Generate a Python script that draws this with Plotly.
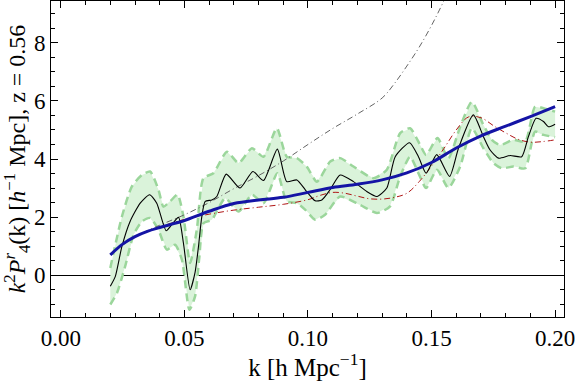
import plotly.graph_objects as go

# measured P4 (black)
k_obs = [0.0200, 0.0220, 0.0247, 0.0280, 0.0321, 0.0359, 0.0388, 0.0426, 0.0449, 0.0476,
         0.0496, 0.0523, 0.0543, 0.0557, 0.0570, 0.0584, 0.0611, 0.0631, 0.0669, 0.0725,
         0.0777, 0.0820, 0.0876, 0.0914, 0.0955, 0.0989, 0.1029, 0.1056, 0.1090, 0.1130,
         0.1184, 0.1238, 0.1279, 0.1319, 0.1353, 0.1411, 0.1447, 0.1478, 0.1521, 0.1573,
         0.1609, 0.1669, 0.1710, 0.1737, 0.1771, 0.1818, 0.1865, 0.1892, 0.1923, 0.1953,
         0.1973, 0.2000]
p_obs = [-0.38, -0.05, 0.99, 1.85, 2.48, 2.77, 2.48, 1.53, 1.74, 1.99,
         1.10, -0.50, 0.10, 1.00, 2.00, 2.54, 2.59, 2.71, 3.48, 3.00,
         3.57, 3.26, 4.34, 3.22, 3.28, 2.94, 2.56, 2.59, 2.95, 3.45,
         3.22, 2.88, 2.71, 3.00, 4.08, 4.56, 4.08, 3.51, 4.15, 3.40,
         4.37, 5.52, 4.77, 4.31, 4.03, 4.12, 4.08, 4.77, 5.40, 5.29,
         5.11, 5.20]

# error band (green)
k_up = [0.0200, 0.0247, 0.0287, 0.0328, 0.0361, 0.0395, 0.0415, 0.0442, 0.0472, 0.0496,
        0.0523, 0.0550, 0.0577, 0.0617, 0.0672, 0.0719, 0.0773, 0.0820, 0.0874, 0.0914,
        0.0955, 0.0995, 0.1036, 0.1090, 0.1130, 0.1184, 0.1265, 0.1319, 0.1373, 0.1413,
        0.1454, 0.1478, 0.1524, 0.1568, 0.1616, 0.1663, 0.1710, 0.1744, 0.1777, 0.1831,
        0.1879, 0.1919, 0.1953, 0.2000]
p_up = [0.25, 2.02, 3.05, 3.45, 3.57, 2.94, 2.36, 2.54, 2.77, 2.02,
        0.42, 1.56, 3.34, 3.51, 4.25, 3.86, 4.37, 4.08, 5.06, 4.08,
        4.03, 3.74, 3.22, 3.91, 4.03, 3.74, 3.34, 3.63, 4.89, 5.06,
        4.48, 4.14, 4.72, 4.03, 5.11, 5.97, 5.17, 4.66, 4.48, 4.66,
        4.60, 5.80, 5.75, 5.63]
k_lo = [0.0200, 0.0227, 0.0260, 0.0294, 0.0328, 0.0361, 0.0395, 0.0429, 0.0462, 0.0490,
        0.0520, 0.0543, 0.0560, 0.0577, 0.0611, 0.0665, 0.0719, 0.0773, 0.0820, 0.0876,
        0.0914, 0.0955, 0.0989, 0.1029, 0.1069, 0.1130, 0.1211, 0.1279, 0.1332, 0.1373,
        0.1413, 0.1447, 0.1478, 0.1522, 0.1568, 0.1616, 0.1663, 0.1710, 0.1750, 0.1784,
        0.1831, 0.1879, 0.1919, 0.1953, 0.2000]
p_lo = [-1.01, -0.61, 0.30, 1.39, 1.85, 1.97, 1.56, 0.88, 1.05, 0.53,
        -1.19, -0.73, 0.60, 1.79, 1.91, 2.65, 2.19, 2.77, 2.48, 3.51,
        2.54, 2.48, 2.25, 1.91, 2.08, 2.71, 2.42, 2.14, 2.37, 3.40,
        4.08, 3.51, 3.00, 3.63, 3.00, 3.74, 5.06, 4.37, 3.86, 3.68,
        3.74, 3.68, 4.94, 4.83, 4.75]

# model (blue)
k_model = [0.020, 0.025, 0.030, 0.035, 0.040, 0.045, 0.050, 0.060, 0.070, 0.080, 0.090,
           0.100, 0.110, 0.120, 0.130, 0.140, 0.150, 0.160, 0.170, 0.180, 0.190, 0.200]
p_model = [0.70, 1.07, 1.33, 1.51, 1.64, 1.76, 1.88, 2.20, 2.47, 2.59, 2.68,
           2.85, 3.02, 3.13, 3.28, 3.52, 3.88, 4.38, 4.80, 5.13, 5.46, 5.80]

# red dot-dashed
k_red = [0.020, 0.030, 0.040, 0.050, 0.060, 0.070, 0.080, 0.090, 0.100, 0.105, 0.110, 0.115,
         0.120, 0.125, 0.130, 0.135, 0.140, 0.145, 0.150, 0.155, 0.160, 0.165, 0.170, 0.175,
         0.180, 0.185, 0.190, 0.195, 0.200]
p_red = [0.72, 1.33, 1.66, 1.92, 2.10, 2.24, 2.34, 2.44, 2.60, 2.75, 2.85, 2.82,
         2.72, 2.63, 2.62, 2.68, 2.82, 3.22, 3.76, 4.36, 5.00, 5.45, 5.42, 5.15,
         4.90, 4.68, 4.58, 4.60, 4.66]

# gray dot-dashed
k_gray = [0.020, 0.030, 0.040, 0.050, 0.060, 0.070, 0.080, 0.090, 0.100, 0.110, 0.120,
          0.130, 0.135, 0.140, 0.145, 0.150, 0.155, 0.160]
p_gray = [0.72, 1.32, 1.72, 2.08, 2.50, 2.98, 3.43, 3.93, 4.50, 5.05, 5.55,
          6.10, 6.60, 7.20, 7.85, 8.60, 9.45, 10.40]

x_ticks = [0.00, 0.05, 0.10, 0.15, 0.20]
y_ticks = [0, 2, 4, 6, 8]

FONT = "Liberation Serif"
band_green = "rgb(155,214,155)"

fig = go.Figure()
fig.add_trace(go.Scatter(x=k_up + k_lo[::-1], y=p_up + p_lo[::-1], fill="toself",
                         fillcolor="rgb(218,243,218)", line=dict(width=0),
                         mode="lines", hoverinfo="skip", showlegend=False))
fig.add_trace(go.Scatter(x=k_up, y=p_up, mode="lines",
                         line=dict(color=band_green, width=2.5, dash="8px,5px", shape="spline", smoothing=0.6),
                         showlegend=False))
fig.add_trace(go.Scatter(x=k_lo, y=p_lo, mode="lines",
                         line=dict(color=band_green, width=2.5, dash="8px,5px", shape="spline", smoothing=0.6),
                         showlegend=False))
fig.add_trace(go.Scatter(x=k_gray, y=p_gray, mode="lines",
                         line=dict(color="rgb(100,100,100)", width=1, dash="6px,3px,1px,3px", shape="spline"),
                         showlegend=False))
fig.add_trace(go.Scatter(x=k_red, y=p_red, mode="lines",
                         line=dict(color="rgb(175,20,20)", width=1, dash="6px,3px,1px,3px", shape="spline"),
                         showlegend=False))
fig.add_trace(go.Scatter(x=k_obs, y=p_obs, mode="lines",
                         line=dict(color="black", width=1.1, shape="spline", smoothing=0.6),
                         showlegend=False))
fig.add_trace(go.Scatter(x=k_model, y=p_model, mode="lines",
                         line=dict(color="rgb(20,20,165)", width=3, shape="spline"),
                         showlegend=False))

axis_common = dict(showline=True, linecolor="black", linewidth=1, mirror="ticks",
                   ticks="inside", tickcolor="black", ticklen=7, tickwidth=1,
                   showgrid=False, automargin=False,
                   tickfont=dict(family=FONT, size=23, color="black"))

fig.update_xaxes(range=[-0.004, 0.2036], tickvals=x_ticks, tickformat=".2f",
                 minor=dict(dtick=0.01, ticks="inside", ticklen=4, tickcolor="black"),
                 zeroline=False,
                 title=dict(text="k [h Mpc<sup>\u22121</sup>]", font=dict(family=FONT, size=25, color="black"),
                            standoff=6),
                 **axis_common)
fig.update_yaxes(range=[-1.44, 9.44], tickvals=y_ticks,
                 minor=dict(dtick=0.5, ticks="inside", ticklen=4, tickcolor="black"),
                 zeroline=True, zerolinecolor="black", zerolinewidth=1,
                 title=dict(text="<i>k</i><sup>2</sup><i>P</i><sup><i>r</i></sup><sub>4</sub>(k) [<i>h</i><sup>\u22121</sup> Mpc], z = 0.56",
                            font=dict(family=FONT, size=24, color="black"), standoff=4),
                 **axis_common)

fig.update_layout(width=576, height=381, margin=dict(l=51, r=12, t=1, b=64),
                  plot_bgcolor="white", paper_bgcolor="white", showlegend=False)

fig.write_html("out.html", config={"displayModeBar": False},
               post_script="document.body.style.margin='0px';")
